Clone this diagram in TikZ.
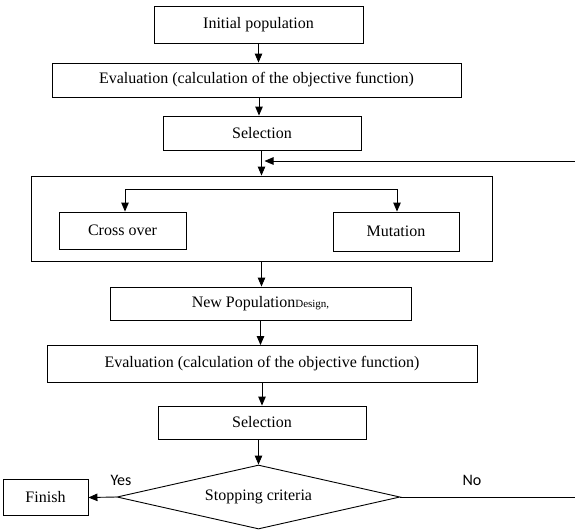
\documentclass[tikz,border=0pt]{standalone}
\usepackage{fontspec}
\setmainfont{Liberation Serif}
\newfontfamily\labelfont{Carlito}
\usetikzlibrary{arrows.meta,shapes.geometric}
\tikzset{
    box/.style={draw,line width=0.9pt,rectangle,inner sep=0pt},
    arw/.style={line width=0.9pt,-{Triangle[length=9pt,width=7.5pt]}}
}
\begin{document}
\begin{tikzpicture}[x=1pt,y=-1pt,font=\fontsize{16}{19}\selectfont]
    \useasboundingbox (0,0) rectangle (575,531);
    \node[box,minimum width=209,minimum height=37] (init) at (258.5,24.5) {Initial population};
    \node[box,minimum width=409,minimum height=34] (eval1) at (256.5,80) {Evaluation (calculation of the objective function)};
    \node[box,minimum width=198,minimum height=34] (sel1) at (262,133) {Selection};
    \node[box,minimum width=461,minimum height=85] (outer) at (261.5,218.5) {};
    \node[box,minimum width=127,minimum height=37] (cross) at (122.5,230.5) {Cross over};
    \node[box,minimum width=126,minimum height=39] (mut) at (396,231.5) {Mutation};
    \node[box,minimum width=301,minimum height=33] (newpop) at (260.5,303.5) {New Population{\fontsize{11}{13}\selectfont Design,}};
    \node[box,minimum width=430,minimum height=37] (eval2) at (262,364) {Evaluation (calculation of the objective function)};
    \node[box,minimum width=208,minimum height=33] (sel2) at (262,422.5) {Selection};
    \node[box,diamond,aspect=4.4,minimum width=283,minimum height=64] (stop) at (258.5,497) {Stopping criteria};
    \node[box,minimum width=85,minimum height=36] (finish) at (45.5,497.5) {Finish};
    \node[font=\labelfont\fontsize{16}{19}\selectfont] (yes) at (121,480) {Yes};
    \node[font=\labelfont\fontsize{16}{19}\selectfont] (no) at (472,480) {No};
    \coordinate (split) at (261,189);
    \coordinate (back) at (575,161);
    \coordinate (noend) at (575,497);
    % main line
    \draw[arw] (init.south) -- (init.south |- eval1.north);
    \draw[arw] ([xshift=2.5]eval1.south) -- ([xshift=-3]sel1.north);
    \draw[arw] (sel1.south -| outer.north) -- (outer.north);
    \draw[arw] (back) -- ([xshift=3]outer.north |- back);
    \draw[arw] (split) -| ([xshift=2.5]cross.north);
    \draw[arw] (split) -| ([xshift=1]mut.north);
    \draw[arw] (outer.south) -- (outer.south |- newpop.north);
    \draw[arw] (newpop.south) -- (newpop.south |- eval2.north);
    \draw[arw] (eval2.south) -- (eval2.south |- sel2.north);
    \draw[arw] (sel2.south -| stop.north) -- (stop.north);
    % exits
    \draw[arw] (stop.west) -- (finish.east);
    \draw[line width=0.9pt] (stop.east) -- (noend);
\end{tikzpicture}
\end{document}
